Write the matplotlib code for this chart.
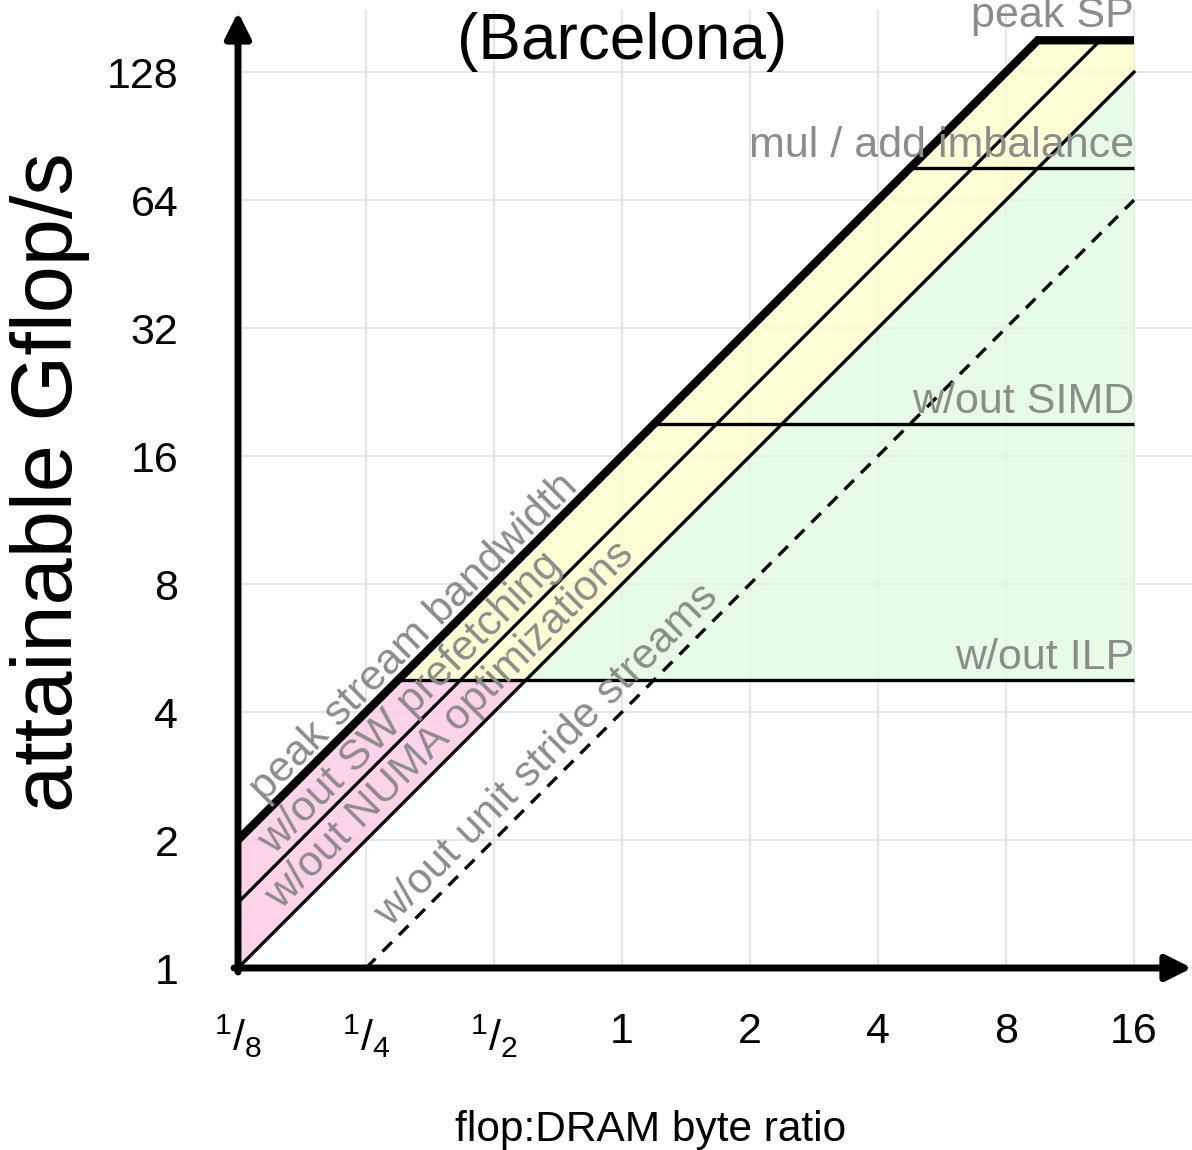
import numpy as np
import matplotlib
matplotlib.use('Agg')
import matplotlib.pyplot as plt

plt.rcParams['font.family'] = ['Liberation Sans', 'DejaVu Sans']
plt.rcParams['mathtext.fontset'] = 'custom'
plt.rcParams['mathtext.rm'] = 'Liberation Sans'
plt.rcParams['mathtext.it'] = 'Liberation Sans'

# ---------------- data ----------------
x_ticks = [1/8, 1/4, 1/2, 1, 2, 4, 8, 16]
x_tick_labels = [r'$\mathrm{^{1}/_{8}}$', r'$\mathrm{^{1}/_{4}}$', r'$\mathrm{^{1}/_{2}}$',
                 '1', '2', '4', '8', '16']
y_ticks = [1, 2, 4, 8, 16, 32, 64, 128]
y_tick_labels = ['1', '2', '4', '8', '16', '32', '64', '128']

peak_sp = 152.0
ceiling_names = ['mul / add imbalance', 'w/out SIMD', 'w/out ILP']
ceiling_values = [76.0, 19.0, 4.75]

bw_names = ['peak stream bandwidth', 'w/out SW prefetching',
            'w/out NUMA optimizations', 'w/out unit stride streams']
bw_values = [16.0, 11.4, 8.0, 4.0]
bw_start = [1/8, 1/8, 1/8, 1/4]
x_end = 16.0

# ---------------- layout ----------------
W, H = 1192, 1150
fig = plt.figure(figsize=(W / 100, H / 100), dpi=100)
ax_l, ax_r, ax_b, ax_t = 238, 1192, 968, 10
ax = fig.add_axes([ax_l / W, (H - ax_b) / H, (ax_r - ax_l) / W, (ax_b - ax_t) / H])
ax.set_xscale('log', base=2)
ax.set_yscale('log', base=2)
ppd = 128.0  # pixels per doubling
ax.set_xlim(1/8, 1/8 * 2 ** ((ax_r - ax_l) / ppd))
ax.set_ylim(1, 2 ** ((ax_b - ax_t) / ppd))

ax.set_xticks(x_ticks)
ax.set_xticklabels(x_tick_labels)
ax.set_yticks(y_ticks)
ax.set_yticklabels(y_tick_labels)
ax.minorticks_off()
ax.tick_params(axis='both', length=0, labelsize=31)
ax.tick_params(axis='y', pad=43)
ax.tick_params(axis='x', pad=32)
ax.grid(True, color='#e6e6e6', lw=1.5, zorder=0)
ax.set_axisbelow(True)
for s in ax.spines.values():
    s.set_visible(False)

# ---------------- fills ----------------
bw0, bw_numa = bw_values[0], bw_values[2]
ilp = ceiling_values[2]
xs = np.array(sorted([1/8, ilp / bw0, ilp / bw_numa, peak_sp / bw0, x_end]))
roof = np.minimum(bw0 * xs, peak_sp)
numa = np.minimum(bw_numa * xs, peak_sp)
eps = 1e-9
up = np.minimum(roof, ilp)
ax.fill_between(xs, numa, up, where=up >= numa - eps, color='#ffc8e4', alpha=0.8, lw=0, zorder=1)
lo = np.maximum(numa, ilp)
ax.fill_between(xs, lo, roof, where=roof >= lo - eps, color='#ffffcc', alpha=0.8, lw=0, zorder=1)
ax.fill_between(xs, ilp, numa, where=numa >= ilp - eps, color='#defcde', alpha=0.75, lw=0, zorder=1)

# ---------------- lines ----------------
thin = 2.4
for i, (bw, x0) in enumerate(zip(bw_values, bw_start)):
    x1 = min(peak_sp / bw, x_end)
    if i == 0:
        ax.plot([x0, x1, x_end], [bw * x0, bw * x1, peak_sp], color='k', lw=6,
                solid_joinstyle='miter', solid_capstyle='butt', zorder=4)
    elif i == 3:
        ax.plot([x0, x1], [bw * x0, bw * x1], color='k', lw=thin, ls=(0, (4, 3)), zorder=3)
    else:
        ax.plot([x0, x1], [bw * x0, bw * x1], color='k', lw=thin, zorder=3)

for c in ceiling_values:
    ax.plot([c / bw0, x_end], [c, c], color='k', lw=thin, solid_capstyle='butt', zorder=3)

# ---------------- labels ----------------
gray = '#8c8c8c'
fs = 31
ax.annotate('peak SP', xy=(x_end, peak_sp), xytext=(0, 13), textcoords='offset pixels',
            ha='right', va='baseline', color=gray, fontsize=fs, zorder=5)
for name, c in zip(ceiling_names, ceiling_values):
    ax.annotate(name, xy=(x_end, c), xytext=(0, 11), textcoords='offset pixels',
                ha='right', va='baseline', color=gray, fontsize=fs, zorder=5)

label_px = [270, 279, 288, 398]
label_off = [8, 8, 10, 11]
for name, bw, px, d in zip(bw_names, bw_values, label_px, label_off):
    xs_ = 1/8 * 2 ** ((px - ax_l) / ppd)
    ax.annotate(name, xy=(xs_, bw * xs_), xytext=(-d / np.sqrt(2), d / np.sqrt(2)),
                textcoords='offset pixels', rotation=45, rotation_mode='anchor',
                ha='left', va='baseline', color=gray, fontsize=fs, zorder=5)

ax.text(622, H - 42, '(Barcelona)', transform=None, ha='center', va='center', fontsize=46)
fig.text(651 / W, (H - 1130) / H, 'flop:DRAM byte ratio', ha='center', va='center', fontsize=30.5)
fig.text(50 / W, (H - 482) / H, 'attainable Gflop/s', ha='center', va='center',
         rotation=90, fontsize=61)

# ---------------- axes with arrows ----------------
arrow_kw = dict(arrowstyle='-|>,head_length=0.7,head_width=0.35', color='k', lw=5,
                shrinkA=0, shrinkB=0, mutation_scale=22)
ax.annotate('', xy=(0, 1.0 - 2 / (ax_b - ax_t)), xycoords='axes fraction',
            xytext=(0, -4 / (ax_b - ax_t)), arrowprops=arrow_kw, annotation_clip=False, zorder=6)
ax.annotate('', xy=(1.0, 0), xycoords='axes fraction',
            xytext=(-4 / (ax_r - ax_l), 0), arrowprops=arrow_kw, annotation_clip=False, zorder=6)

fig.savefig('out.png', dpi=100)
